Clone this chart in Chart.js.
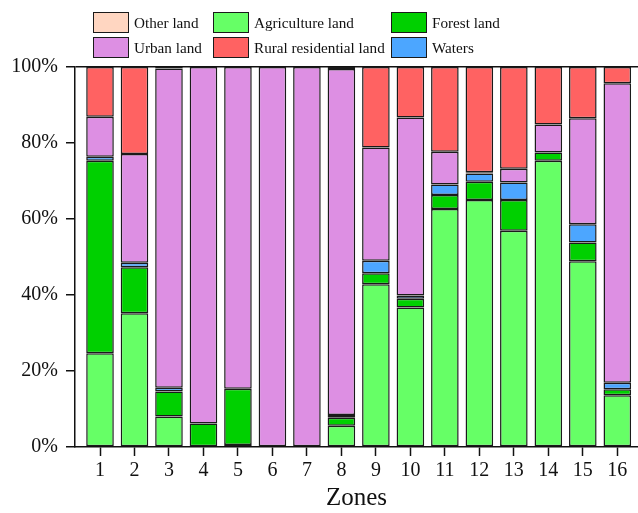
<!DOCTYPE html>
<html>
<head>
<meta charset="utf-8">
<script src="https://cdn.jsdelivr.net/npm/chart.js@4/dist/chart.umd.min.js"></script>
<style>
  html, body { margin: 0; padding: 0; background: #fff; }
  #wrap { position: relative; width: 638px; height: 513px; }
  #legend {
    position: absolute; left: 0; top: 0; width: 638px; height: 62px;
    font-family: "Liberation Serif", "Times New Roman", serif; font-size: 15.2px; color: #111;
  }
  .item { position: absolute; display: flex; align-items: center; height: 21px; white-space: nowrap; }
  .box { width: 36px; height: 21px; border: 1.5px solid #1a1a1a; box-sizing: border-box; margin-right: 5px; }
</style>
</head>
<body>
<div id="wrap">
  <canvas id="c" width="638" height="513"></canvas>
  <div id="legend"></div>
</div>
<script>
// Land-use composition (%) for each zone
const zones       = [1, 2, 3, 4, 5, 6, 7, 8, 9, 10, 11, 12, 13, 14, 15, 16];
const agriculture = [24.7, 35.2, 8.0, 0, 0.5, 0, 0, 5.6, 42.8, 36.7, 62.6, 65.0, 56.9, 75.3, 48.9, 13.6];
const forest      = [50.6, 12.1, 6.6, 6.2, 14.8, 0, 0, 2.1, 2.9, 2.3, 3.7, 4.8, 8.1, 2.2, 4.9, 1.6];
const waters      = [1.1, 1.2, 1.0, 0, 0, 0, 0, 0.7, 3.3, 0.9, 2.8, 2.2, 4.6, 0, 4.8, 1.7];
const urban       = [10.5, 28.6, 84.0, 93.8, 84.7, 100, 100, 91.1, 29.8, 46.8, 8.6, 0.3, 3.6, 7.4, 27.9, 78.8];
const rural       = [13.1, 22.9, 0.4, 0, 0, 0, 0, 0.5, 21.2, 13.3, 22.3, 27.7, 26.8, 15.1, 13.5, 4.3];
const other       = [0, 0, 0, 0, 0, 0, 0, 0, 0, 0, 0, 0, 0, 0, 0, 0];
const yTicks      = [0, 20, 40, 60, 80, 100];

const FONT = '"Liberation Serif", "Times New Roman", serif';
const INK = '#111';

function series(label, values, color) {
  return {
    label,
    data: zones.map((z, i) => ({ x: z, y: values[i] })),
    backgroundColor: color,
    borderColor: '#1a1a1a',
    borderWidth: 1.5,
    borderSkipped: false,
    barPercentage: 0.8,
    categoryPercentage: 1.0
  };
}

const datasets = [
  series('Agriculture land', agriculture, '#66FF66'),
  series('Forest land', forest, '#00D000'),
  series('Waters', waters, '#4CA6FF'),
  series('Urban land', urban, '#DD8FE3'),
  series('Rural residential land', rural, '#FF6262'),
  series('Other land', other, '#FFD6C1')
];

const chart = new Chart(document.getElementById('c'), {
  type: 'bar',
  data: { datasets },
  options: {
    responsive: false,
    animation: false,
    devicePixelRatio: 1,
    layout: { padding: { top: 67, left: 0, right: 0, bottom: 0 } },
    plugins: { legend: { display: false }, tooltip: { enabled: false } },
    scales: {
      x: {
        type: 'linear',
        stacked: true,
        min: 0.275,
        max: 16.6,
        offset: false,
        afterBuildTicks: s => { s.ticks = zones.map(z => ({ value: z })); },
        afterFit: s => { s.height = 66; },
        ticks: { font: { family: FONT, size: 20 }, color: INK, padding: 3, maxRotation: 0, autoSkip: false },
        grid: { offset: false, drawOnChartArea: false, drawTicks: true, tickLength: 9, tickColor: INK, tickWidth: 1.5 },
        border: { color: INK, width: 1.5 },
        title: { display: true, text: 'Zones', font: { family: FONT, size: 25 }, color: INK, padding: 0 }
      },
      y: {
        stacked: true,
        min: 0,
        max: 100,
        afterBuildTicks: s => { s.ticks = yTicks.map(v => ({ value: v })); },
        afterFit: s => { s.width = 75; },
        ticks: { font: { family: FONT, size: 20 }, color: INK, padding: 8, callback: v => v + '%' },
        grid: {
          color: c => (c.tick && c.tick.value === 100 ? INK : 'rgba(0,0,0,0)'),
          lineWidth: 1.5, tickColor: INK, tickLength: 9, tickWidth: 1.5
        },
        border: { color: INK, width: 1.5 }
      }
    }
  }
});

// Legend: three columns, two rows
const legendOrder = ['Other land', 'Agriculture land', 'Forest land', 'Urban land', 'Rural residential land', 'Waters'];
const colX = [93, 213, 391];
const rowY = [12, 37];
const legend = document.getElementById('legend');
legendOrder.forEach((name, k) => {
  const ds = datasets.find(d => d.label === name);
  const item = document.createElement('div');
  item.className = 'item';
  item.style.left = colX[k % 3] + 'px';
  item.style.top = rowY[Math.floor(k / 3)] + 'px';
  const box = document.createElement('span');
  box.className = 'box';
  box.style.background = ds.backgroundColor;
  const txt = document.createElement('span');
  txt.textContent = name;
  item.appendChild(box);
  item.appendChild(txt);
  legend.appendChild(item);
});
</script>
</body>
</html>
